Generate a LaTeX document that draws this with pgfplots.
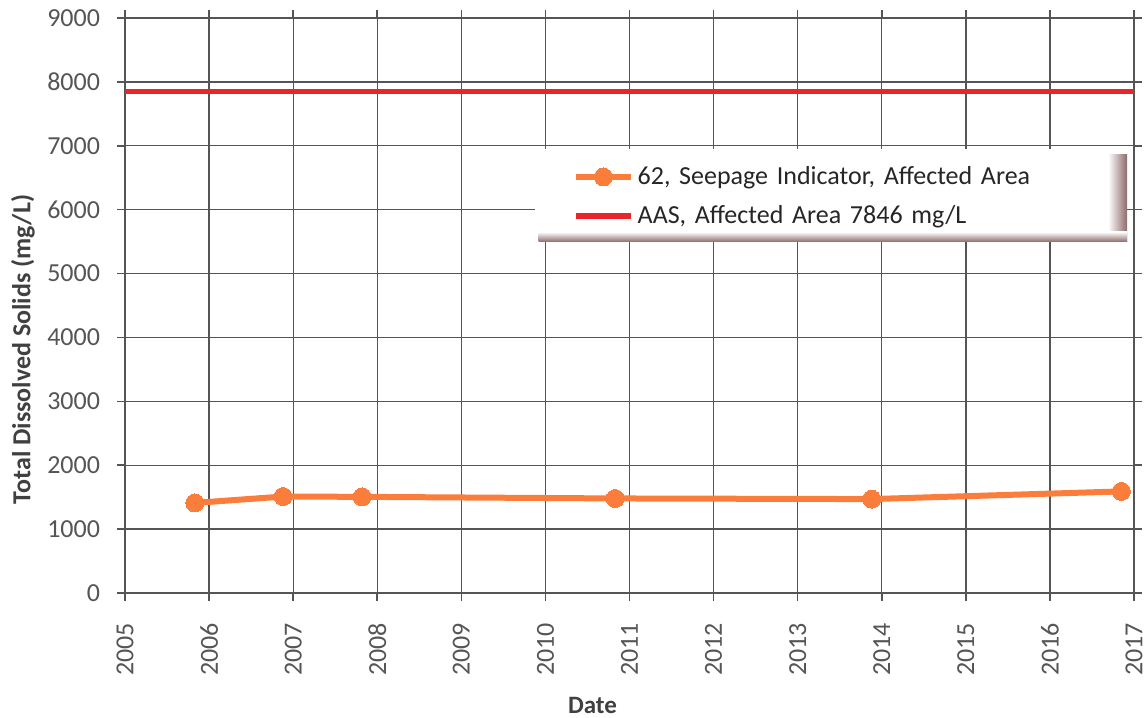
\documentclass[border=0pt]{standalone}
\usepackage{fontspec}
\setmainfont{Carlito}
\usepackage{pgfplots}
\pgfplotsset{compat=1.18}
\definecolor{seep}{RGB}{250,125,60}
\definecolor{aas}{RGB}{232,38,42}
\definecolor{gridc}{RGB}{85,85,85}
\definecolor{tickc}{RGB}{85,85,85}
\definecolor{labc}{RGB}{64,64,64}
\definecolor{shad}{RGB}{140,105,105}
\begin{document}
\begin{tikzpicture}
\begin{axis}[
  scale only axis,
  width=504.5pt, height=287.5pt,
  xmin=2005, xmax=2017, ymin=0, ymax=9000,
  xtick={2005,2006,...,2017},
  ytick={0,1000,...,9000},
  /pgf/number format/assume math mode=true,
  /pgf/number format/1000 sep={},
  xticklabel style={rotate=90, anchor=east, font=\fontsize{13}{15}\selectfont, text=tickc},
  yticklabel style={font=\fontsize{13}{15}\selectfont, text=tickc},
  xticklabel shift=7.6pt,
  yticklabel shift=5pt,
  tick align=outside,
  major tick length=4pt,
  tick style={gridc, line width=0.8pt},
  axis line style={gridc, line width=0.8pt},
  grid=major,
  major grid style={gridc, line width=0.65pt},
  xlabel={\textbf{Date}},
  ylabel={\textbf{Total Dissolved Solids (mg/L)}},
  xlabel style={font=\fontsize{12.5}{14}\selectfont, text=labc,
    at={([xshift=-18.5pt,yshift=-56pt]rel axis cs:0.5,0)}, anchor=center},
  ylabel style={font=\fontsize{13}{15}\selectfont, text=labc,
    at={([xshift=-51pt,yshift=-22pt]rel axis cs:0,0.5)}, anchor=center},
  legend cell align=left,
  legend style={
    name=leg,
    at={(rel axis cs:0.406,0.760)}, anchor=north west,
    draw=none, fill=white,
    inner xsep=19pt, inner ysep=3pt,
    font=\fontsize{13}{15}\selectfont,
    row sep=5pt,
    nodes={text width=215pt, inner sep=2pt, text=black!85},
  },
  legend image code/.code={
    \draw[#1, mark repeat=2, mark phase=2] plot coordinates {(0cm,0cm) (0.48cm,0cm) (0.96cm,0cm)};
  },
]
\addplot[color=seep, line width=3pt, mark=*, mark size=4.5pt, mark options={fill=seep, draw=seep, line width=0pt}] coordinates {
  (2005.83,1410)
  (2006.88,1510)
  (2007.82,1505)
  (2010.83,1480)
  (2013.88,1470)
  (2016.85,1590)
};
\addlegendentry{62, Seepage Indicator, Affected Area}
\addplot[color=aas, line width=2.6pt, mark=none] coordinates {
  (2005,7846) (2017,7846)
};
\addlegendentry{AAS, Affected Area 7846 mg/L}
\end{axis}
\fill[white] (leg.north west) rectangle ([yshift=3.5pt]leg.north east);
\shade[left color=white, right color=shad]
  ([xshift=-1pt,yshift=1pt]leg.north east) rectangle ([xshift=8.5pt,yshift=-2.5pt]leg.south east);
\shade[top color=white, bottom color=shad]
  ([xshift=2pt,yshift=2.5pt]leg.south west) rectangle ([xshift=8.5pt,yshift=-2.5pt]leg.south east);
\pgfresetboundingbox
\useasboundingbox ([xshift=-62.5pt,yshift=-62pt]current axis.south west) rectangle ([xshift=7pt,yshift=9pt]current axis.north east);
\end{tikzpicture}
\end{document}
